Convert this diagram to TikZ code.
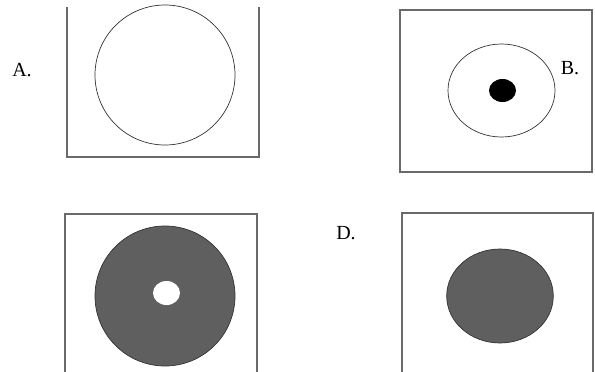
\documentclass[tikz,border=0pt]{standalone}
\usepackage{fontspec}
\setmainfont{Liberation Serif}
\definecolor{PanelEdge}{HTML}{6A6A6A}
\definecolor{CellGray}{HTML}{5F5F5F}
\tikzset{
  frame/.style={draw=PanelEdge,line width=1.5pt},
  rim/.style={draw=black!80,line width=0.7pt},
  spot/.style={fill=black},
  cellfill/.style={rim,fill=CellGray},
  hole/.style={fill=white},
  letter/.style={font=\fontsize{20}{23}\selectfont,inner sep=0pt},
}
\begin{document}
\begin{tikzpicture}[x=1pt,y=-1pt]
  \useasboundingbox (0,0) rectangle (595,372);

  % A: open cell
  \draw[frame] (67,7) -- (67,157) -- (259,157) -- (259,7);
  \draw[rim] (165,75) circle (70);
  \node[letter] (labA) at (22,70) {A.};

  % B: ring with dark core
  \draw[frame] (400,10) rectangle (592,172);
  \draw[rim] (501.5,90.5) ellipse (53.5 and 46.5);
  \fill[spot] (502.5,90.5) ellipse (13.5 and 11.5);
  \node[letter] (labB) at (570,68) {B.};

  % C: gray disc with hole
  \draw[frame] (65,372) -- (65,214) -- (257,214) -- (257,372);
  \draw[cellfill] (165,296) circle (70);
  \fill[hole] (166.5,293) ellipse (13.5 and 12);

  % D: gray ellipse
  \draw[frame] (402,372) -- (402,213) -- (593,213) -- (593,372);
  \draw[cellfill] (500,296) ellipse (53.3 and 47);
  \node[letter] (labD) at (346,233) {D.};
\end{tikzpicture}
\end{document}
